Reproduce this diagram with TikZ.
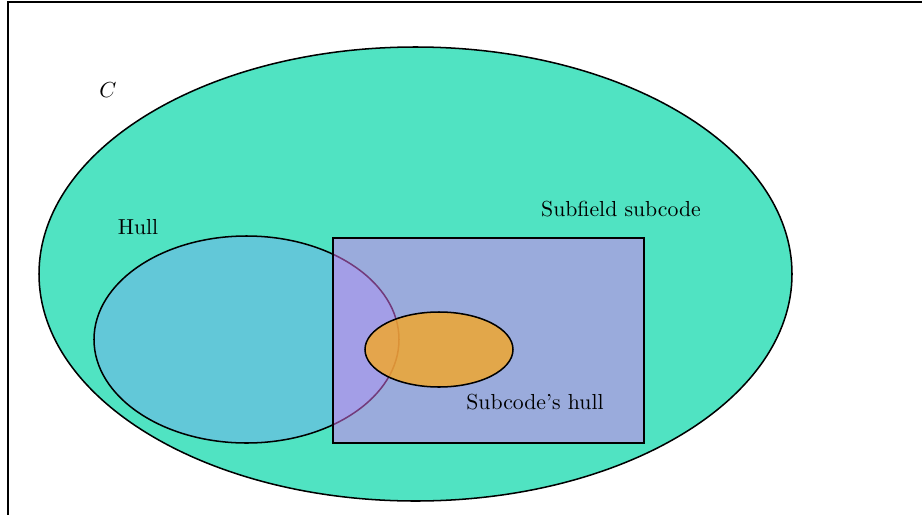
\documentclass[tikz,border=0pt]{standalone}
\definecolor{bigc}{RGB}{80,227,194}
\definecolor{hullc}{RGB}{98,200,216}
\definecolor{rectc}{RGB}{228,117,246}
\definecolor{orc}{RGB}{245,167,38}
\begin{document}
\begin{tikzpicture}[x=0.46pt,y=-0.46pt,
  region/.style={draw=black,line width=0.7pt},
  lbl/.style={inner sep=0pt,font=\normalsize}]
\useasboundingbox (0,0) rectangle (922,514);
\draw[line width=0.9pt] (8,520) -- (8,2) -- (930,2);
\path[region,fill=bigc] (415.5,274) ellipse [x radius=376.5, y radius=227];
\path[region,fill=hullc] (246.5,339.5) ellipse [x radius=152.5, y radius=103.5];
\path[region,fill=rectc,fill opacity=0.5] (333,238) rectangle (644,443);
\path[region,fill=orc,fill opacity=0.8] (439,349.5) ellipse [x radius=74, y radius=37.5];
\node[lbl] (lc) at (108,90) {$C$};
\node[lbl] (lhull) at (138,227) {Hull};
\node[lbl] (lsub) at (621,209) {Subfield subcode};
\node[lbl] (lsh) at (535,402) {Subcode's hull};
\end{tikzpicture}
\end{document}
